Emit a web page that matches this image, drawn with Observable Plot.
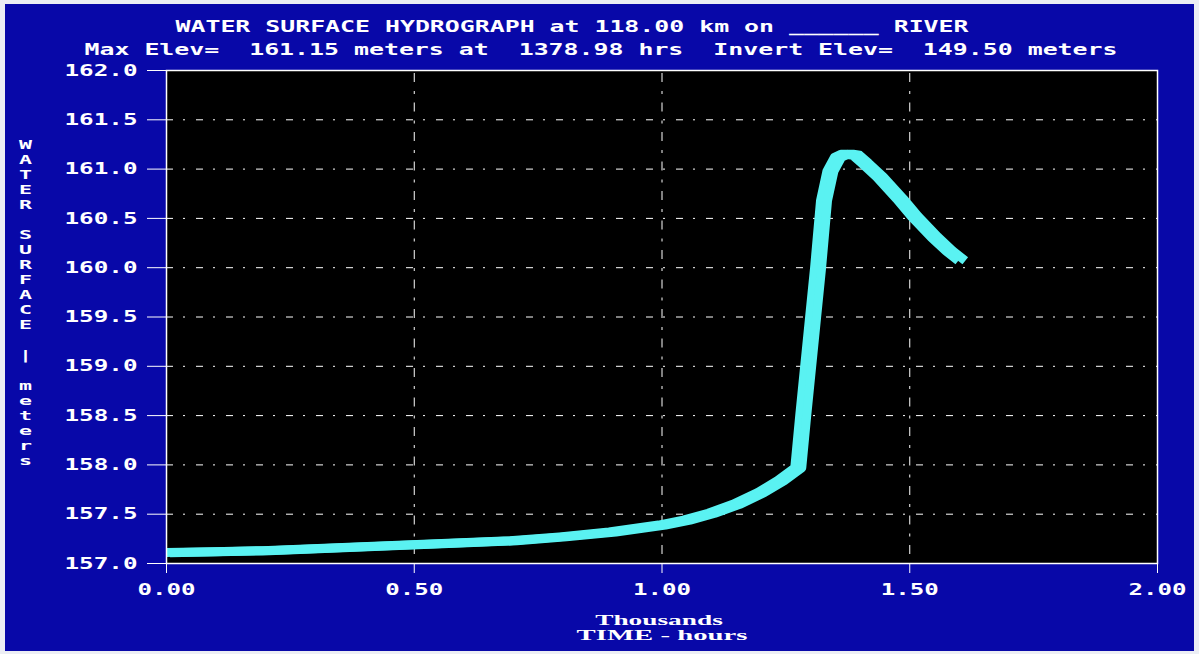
<!DOCTYPE html>
<html>
<head>
<meta charset="utf-8">
<script src="https://cdn.jsdelivr.net/npm/d3@7"></script>
<script src="https://cdn.jsdelivr.net/npm/@observablehq/plot@0.6"></script>
<style>
  html, body { margin: 0; padding: 0; background: #eceef4; }
  #chart { position: absolute; left: 5px; top: 4px; }
  #chart svg text { white-space: pre; }
</style>
</head>
<body>
<div id="chart"></div>
<script>
// Time since start of simulation, in thousands of hours
const hours = [0, 0.1, 0.2, 0.3, 0.4, 0.5, 0.6, 0.7, 0.8, 0.9, 1.0, 1.05, 1.1, 1.15, 1.2, 1.24,
  1.275, 1.285, 1.295, 1.305, 1.315, 1.327, 1.34, 1.355, 1.368, 1.379, 1.392, 1.41, 1.44,
  1.48, 1.51, 1.55, 1.58, 1.605];
// Water surface elevation, meters
const elevation = [157.11, 157.12, 157.13, 157.15, 157.17, 157.19, 157.21, 157.23, 157.27,
  157.32, 157.39, 157.44, 157.51, 157.60, 157.72, 157.84, 157.97, 158.50, 159.00, 159.50,
  160.00, 160.68, 160.98, 161.12, 161.15, 161.15, 161.14, 161.06, 160.92, 160.70, 160.52,
  160.31, 160.17, 160.07];

const xTicks = [0, 0.5, 1.0, 1.5, 2.0];
const xGrid = [0.5, 1.0, 1.5];
const yTicks = [157.0, 157.5, 158.0, 158.5, 159.0, 159.5, 160.0, 160.5, 161.0, 161.5, 162.0];
const yGrid = [157.5, 158.0, 158.5, 159.0, 159.5, 160.0, 160.5, 161.0, 161.5];

const title1 = "WATER SURFACE HYDROGRAPH at 118.00 km on ______ RIVER";
const title2 = "Max Elev=  161.15 meters at  1378.98 hrs  Invert Elev=  149.50 meters";
const yLabel = "WATER SURFACE | meters";
const xLabel1 = "Thousands";
const xLabel2 = "TIME - hours";

const series = hours.map((t, i) => ({t, v: elevation[i]}));

const MONO = "DejaVu Sans Mono";
const SERIF = "Liberation Serif";
const CYAN = "#5af2f2";

const chart = Plot.plot({
  width: 1189,
  height: 647,
  marginLeft: 161,
  marginRight: 37,
  marginTop: 66,
  marginBottom: 88,
  style: {
    background: "#0808a8",
    color: "white",
    fontFamily: MONO,
    fontSize: "16px",
    fontWeight: "bold"
  },
  x: {domain: [0, 2]},
  y: {domain: [157, 162]},
  marks: [
    Plot.frame({fill: "black", stroke: null}),
    Plot.gridX(xGrid, {stroke: "white", strokeOpacity: 1, strokeWidth: 1,
      strokeDasharray: "9,9,3,8.5", strokeDashoffset: -3}),
    Plot.gridY(yGrid, {stroke: "white", strokeOpacity: 1, strokeWidth: 1,
      strokeDasharray: "7,10,2,11"}),
    // pen is wider than it is tall: two passes offset sideways
    Plot.line(series, {x: "t", y: "v", stroke: CYAN, strokeWidth: 9, dx: -3.5,
      strokeLinejoin: "round", strokeLinecap: "butt", clip: true}),
    Plot.line(series, {x: "t", y: "v", stroke: CYAN, strokeWidth: 9, dx: 3.5,
      strokeLinejoin: "round", strokeLinecap: "butt", clip: true}),
    Plot.frame({stroke: "white", strokeWidth: 1.5}),
    Plot.axisX({ticks: xTicks, tickSize: 10, tickPadding: 10, tickFormat: d => d.toFixed(2),
      label: null, stroke: "white", fill: "white"}),
    Plot.axisY({ticks: yTicks, tickSize: 19, tickPadding: 10, tickFormat: d => d.toFixed(1),
      label: null, stroke: "white", fill: "white"}),
    Plot.text([title1], {text: d => d, frameAnchor: "top-left", textAnchor: "start",
      lineAnchor: "middle", dx: 9, dy: -44, fill: "white"}),
    Plot.text([title2], {text: d => d, frameAnchor: "top-left", textAnchor: "start",
      lineAnchor: "middle", dx: -82, dy: -21, fill: "white"}),
    Plot.text([yLabel.split("").join("\n")], {text: d => d, frameAnchor: "left",
      textAnchor: "middle", lineAnchor: "middle", lineHeight: 1.16, dx: -141, dy: -15,
      fill: "white", fontSize: 13}),
    Plot.text([xLabel1], {text: d => d, frameAnchor: "bottom", textAnchor: "middle",
      lineAnchor: "middle", dx: -3, dy: 57, fill: "white", fontFamily: SERIF, fontSize: 15}),
    Plot.text([xLabel2], {text: d => d, frameAnchor: "bottom", textAnchor: "middle",
      lineAnchor: "middle", dx: 0, dy: 72, fill: "white", fontFamily: SERIF, fontSize: 15})
  ]
});

document.getElementById("chart").appendChild(chart);

// Widen the glyphs to the broad character cells of the screen font
chart.querySelectorAll("text").forEach(t => {
  const serif = getComputedStyle(t).fontFamily.includes("Serif");
  const adv = serif ? 14.4 : 15;
  const spans = t.querySelectorAll("tspan");
  const targets = spans.length ? Array.from(spans) : [t];
  targets.forEach(el => {
    const s = el.textContent;
    if (!s.trim()) return;
    el.setAttribute("textLength", s.length * adv - 2);
    el.setAttribute("lengthAdjust", "spacingAndGlyphs");
  });
});
</script>
</body>
</html>
